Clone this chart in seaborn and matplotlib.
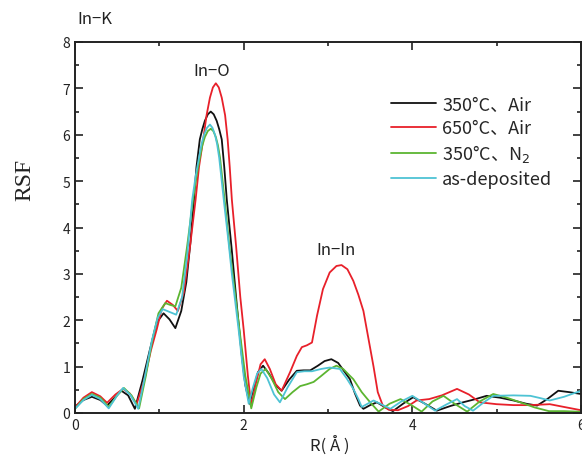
import numpy as np
import pandas as pd
import matplotlib
matplotlib.use("Agg")
import matplotlib.pyplot as plt
import seaborn as sns
from matplotlib.ticker import MultipleLocator

sns.set_style("ticks")
plt.rcParams['font.family'] = ['Noto Sans CJK JP', 'DejaVu Sans']

labels = ["350°C、Air", "650°C、Air", "350°C、N$_2$", "as-deposited"]
colors = ["#111111", "#e8202a", "#5cb531", "#4ec3d4"]

# 350°C Air
r_air350 = [0.0, 0.1, 0.2, 0.3, 0.38, 0.47, 0.55, 0.63, 0.71, 0.8, 0.89, 0.97, 1.05, 1.12, 1.19,
            1.26, 1.32, 1.37, 1.41, 1.44, 1.48, 1.51, 1.54, 1.575, 1.61, 1.645, 1.68, 1.71, 1.74,
            1.77, 1.8, 1.86, 1.92, 1.98, 2.02, 2.07,
            2.12, 2.17, 2.23, 2.3, 2.38, 2.45, 2.54, 2.63, 2.71, 2.79, 2.88, 2.96, 3.04, 3.12, 3.2,
            3.26, 3.32, 3.38, 3.42, 3.5, 3.58, 3.68, 3.77, 3.89, 4.01, 4.15, 4.29, 4.45, 4.6, 4.75,
            4.88, 5.04, 5.2, 5.35, 5.48, 5.6, 5.73, 5.86, 6.0]
rsf_air350 = [0.14, 0.28, 0.35, 0.28, 0.16, 0.33, 0.48, 0.38, 0.09, 0.7, 1.38, 1.95, 2.15, 2.02, 1.83,
              2.2, 2.82, 3.7, 4.6, 5.3, 5.9, 6.12, 6.3, 6.44, 6.5, 6.44, 6.3, 6.12, 5.9,
              5.3, 4.6, 3.5, 2.3, 1.2, 0.6, 0.2,
              0.55, 0.88, 1.02, 0.85, 0.6, 0.48, 0.72, 0.91, 0.92, 0.92, 1.02, 1.12, 1.16, 1.08, 0.88,
              0.73, 0.42, 0.16, 0.09, 0.17, 0.23, 0.12, 0.04, 0.2, 0.34, 0.2, 0.05, 0.15, 0.23, 0.3,
              0.37, 0.33, 0.27, 0.2, 0.16, 0.3, 0.48, 0.45, 0.41]

# 650°C Air
r_air650 = [0.0, 0.1, 0.2, 0.3, 0.38, 0.48, 0.57, 0.65, 0.73, 0.82, 0.9, 0.97, 1.03, 1.09, 1.16,
            1.22, 1.29, 1.36, 1.43, 1.47, 1.52, 1.56, 1.6, 1.635, 1.67, 1.705, 1.74, 1.78, 1.81,
            1.835, 1.86, 1.91, 1.96, 2.0, 2.05, 2.09,
            2.14, 2.2, 2.25, 2.31, 2.38, 2.45, 2.55, 2.63, 2.69, 2.75, 2.81, 2.87, 2.94, 3.02, 3.1,
            3.16, 3.23, 3.3, 3.36, 3.42, 3.48, 3.54, 3.59, 3.65, 3.72, 3.83, 3.95, 4.05, 4.2, 4.35,
            4.53, 4.67, 4.8, 5.0, 5.2, 5.4, 5.63, 5.8, 6.0]
rsf_air650 = [0.12, 0.33, 0.45, 0.36, 0.22, 0.4, 0.52, 0.42, 0.19, 0.7, 1.35, 1.81, 2.25, 2.42, 2.33,
              2.2, 2.6, 3.53, 4.6, 5.3, 5.9, 6.42, 6.8, 7.02, 7.11, 7.02, 6.8, 6.42, 5.9,
              5.3, 4.6, 3.6, 2.5, 1.8, 0.8, 0.15,
              0.6, 1.05, 1.16, 0.95, 0.62, 0.48, 0.88, 1.23, 1.42, 1.46, 1.52, 2.1, 2.67, 3.03, 3.17,
              3.19, 3.1, 2.85, 2.55, 2.2, 1.6, 1.0, 0.45, 0.16, 0.07, 0.06, 0.15, 0.27, 0.3, 0.38,
              0.52, 0.4, 0.23, 0.19, 0.17, 0.17, 0.19, 0.13, 0.06]

# 350°C N2
r_n2 = [0.0, 0.1, 0.2, 0.3, 0.4, 0.5, 0.58, 0.67, 0.76, 0.84, 0.92, 0.99, 1.07, 1.13, 1.19,
        1.26, 1.33, 1.4, 1.44, 1.48, 1.51, 1.54, 1.575, 1.61, 1.64, 1.67, 1.695, 1.72, 1.78,
        1.83, 1.87, 1.95, 2.02, 2.09,
        2.15, 2.2, 2.26, 2.33, 2.41, 2.49, 2.58, 2.67, 2.75, 2.83, 2.92, 3.02, 3.1, 3.18, 3.25,
        3.3, 3.4, 3.5, 3.6, 3.73, 3.86, 3.98, 4.11, 4.24, 4.37, 4.5, 4.65, 4.8, 4.96, 5.12,
        5.28, 5.45, 5.62, 5.8, 5.95, 6.0]
rsf_n2 = [0.09, 0.3, 0.41, 0.33, 0.13, 0.38, 0.54, 0.38, 0.1, 0.8, 1.6, 2.15, 2.37, 2.33, 2.3,
          2.7, 3.6, 4.6, 5.1, 5.5, 5.77, 5.95, 6.08, 6.13, 6.08, 5.95, 5.77, 5.5, 4.5,
          3.6, 3.0, 1.8, 0.8, 0.1,
          0.55, 0.85, 0.95, 0.75, 0.45, 0.3, 0.45, 0.58, 0.62, 0.67, 0.8, 0.95, 1.02, 0.95, 0.82,
          0.73, 0.45, 0.23, 0.03, 0.2, 0.3, 0.18, 0.03, 0.25, 0.37, 0.2, 0.03, 0.25, 0.41, 0.33,
          0.23, 0.12, 0.04, 0.04, 0.03, 0.03]

# as-deposited
r_dep = [0.0, 0.1, 0.2, 0.3, 0.4, 0.5, 0.57, 0.66, 0.75, 0.83, 0.91, 0.98, 1.04, 1.12, 1.2,
         1.27, 1.33, 1.39, 1.43, 1.47, 1.5, 1.53, 1.565, 1.6, 1.63, 1.66, 1.685, 1.71, 1.77,
         1.82, 1.86, 1.94, 2.0, 2.06,
         2.11, 2.16, 2.21, 2.28, 2.36, 2.43, 2.52, 2.63, 2.72, 2.81, 2.92, 3.02, 3.14, 3.22, 3.3,
         3.36, 3.4, 3.47, 3.54, 3.64, 3.74, 3.87, 4.0, 4.13, 4.27, 4.4, 4.53, 4.62, 4.72, 4.84,
         4.96, 5.2, 5.4, 5.52, 5.63, 5.8, 6.0]
rsf_dep = [0.09, 0.28, 0.39, 0.3, 0.1, 0.38, 0.54, 0.38, 0.09, 0.8, 1.55, 2.05, 2.24, 2.18, 2.12,
           2.5, 3.4, 4.6, 5.1, 5.5, 5.8, 6.0, 6.15, 6.22, 6.15, 6.0, 5.8, 5.5, 4.5,
           3.7, 3.0, 1.8, 0.8, 0.2,
           0.55, 0.85, 0.95, 0.75, 0.4, 0.23, 0.55, 0.88, 0.9, 0.9, 0.95, 0.98, 0.95, 0.75, 0.52,
           0.3, 0.13, 0.2, 0.27, 0.18, 0.09, 0.25, 0.37, 0.22, 0.05, 0.18, 0.3, 0.15, 0.05, 0.22,
           0.37, 0.38, 0.37, 0.32, 0.27, 0.35, 0.48]

frames = []
for lab, r, v in zip(labels, [r_air350, r_air650, r_n2, r_dep],
                     [rsf_air350, rsf_air650, rsf_n2, rsf_dep]):
    frames.append(pd.DataFrame({"R": r, "RSF": v, "sample": lab}))
df = pd.concat(frames, ignore_index=True)

fig = plt.figure(figsize=(5.82, 4.56), dpi=100)
ax = fig.add_axes([75 / 582, 42 / 456, 506 / 582, 371 / 456])

sns.lineplot(data=df, x="R", y="RSF", hue="sample", hue_order=labels,
             palette=colors, estimator=None, sort=False, linewidth=1.3, ax=ax)
for ln in ax.lines:
    ln.set_solid_joinstyle("round")

ax.set_xlim(0, 6)
ax.set_ylim(0, 8)
ax.xaxis.set_major_locator(MultipleLocator(2))
ax.xaxis.set_minor_locator(MultipleLocator(1))
ax.yaxis.set_major_locator(MultipleLocator(1))
ax.yaxis.set_minor_locator(MultipleLocator(0.5))
ax.tick_params(which="both", direction="in", top=True, right=True, width=1.2,
               labelsize=10, colors="#222222")
ax.tick_params(which="major", length=6)
ax.tick_params(which="minor", length=3)
for s in ax.spines.values():
    s.set_linewidth(1.4)
    s.set_color("#222222")
ax.set_xlabel("")
ax.set_ylabel("")

ax.text(1.62, 7.2, "In−O", ha="center", va="bottom", fontsize=12, color="#222222")
ax.text(3.1, 3.35, "In−In", ha="center", va="bottom", fontsize=12, color="#222222")
fig.text(77 / 582, 1 - 20 / 456, "In−K", ha="left", va="center", fontsize=12, color="#222222")
fig.text(25 / 582, 1 - 180 / 456, "RSF", rotation=90, ha="center", va="center",
         fontsize=17, family="Liberation Serif", color="#222222")
fig.text(330 / 582, 1 / 456, "R( Å )", ha="center", va="bottom", fontsize=12, color="#222222")

ax.legend(loc="upper left", bbox_to_anchor=(0.61, 0.875), frameon=False, fontsize=13,
          handlelength=2.5, handletextpad=0.35, labelspacing=0.3, borderaxespad=0)

fig.savefig("out.png", dpi=100)
